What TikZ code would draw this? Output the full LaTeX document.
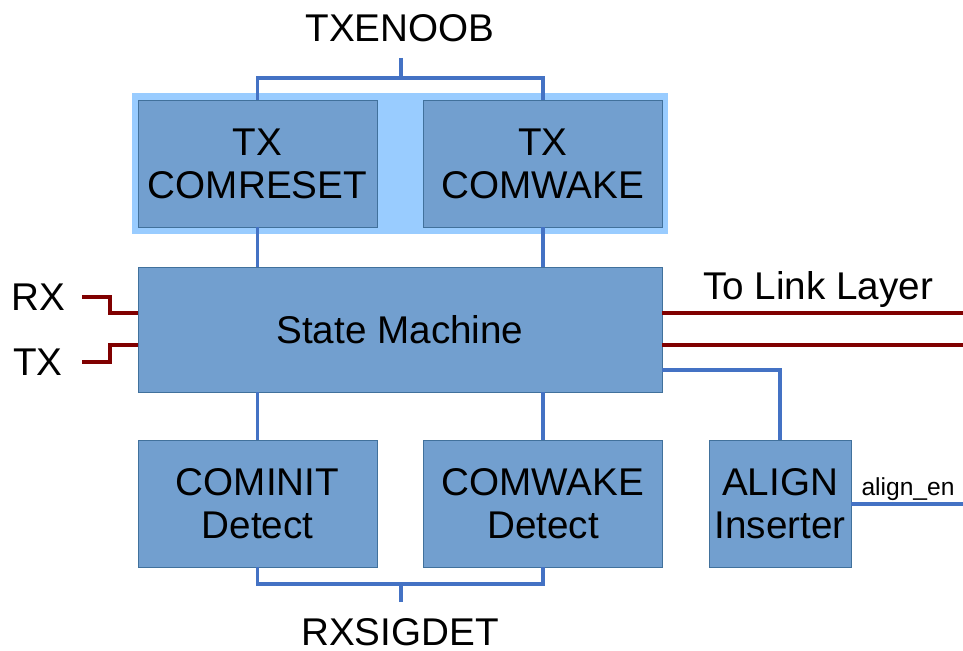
\documentclass[tikz,border=0pt]{standalone}
\usepackage{fontspec}
\setmainfont{Liberation Sans}
\usetikzlibrary{calc}

\definecolor{boxfill}{RGB}{114,159,207}
\definecolor{boxline}{RGB}{65,113,156}
\definecolor{grpfill}{RGB}{153,204,255}
\definecolor{busblue}{RGB}{68,114,196}
\definecolor{sigred}{RGB}{128,0,0}

\tikzset{
    block/.style={draw=boxline,fill=boxfill,align=center,inner sep=0pt,
        minimum width=4.78cm,minimum height=2.54cm,
        font=\fontsize{22}{24.5}\selectfont},
    bus/.style={draw=busblue,line width=2.2pt},
    sig/.style={draw=sigred,line width=2.2pt},
    lbl/.style={font=\fontsize{22}{24.5}\selectfont}
}

\begin{document}
\begin{tikzpicture}[x=0.02cm,y=-0.02cm]
        \useasboundingbox (0,0) rectangle (963,651);

        % transmit group
        \fill[grpfill] (132,93) rectangle (668,234);
        \node[block] (txrst)  at (257.5,163.5) {TX\\COMRESET};
        \node[block] (txwake) at (543,163.5)   {TX\\COMWAKE};

        \node[block,minimum width=10.48cm,minimum height=2.5cm] (fsm) at (400,329.5) {State Machine};

        \node[block] (cominit) at (257.5,503.5) {COMINIT\\Detect};
        \node[block] (comwake) at (543,503.5)   {COMWAKE\\Detect};
        \node[block,minimum width=2.84cm] (align) at (780,503.5) {ALIGN\\Inserter};

        % labels
        \node[lbl] (txenoob) at (400,28)  {TXENOOB};
        \node[lbl] (rxsigdet) at (400,632) {RXSIGDET};
        \node[lbl] (rx) at (38,297) {RX};
        \node[lbl] (tx) at (38,362) {TX};
        \node[lbl] (link) at (818,290) {To Link Layer};
        \node[font=\fontsize{14}{16}\selectfont] (alenlbl) at (908,489) {align\_en};

        \coordinate (txen) at (401,58);
        \coordinate (rxsig) at (401,602);
        \coordinate (rxin) at (82,297);
        \coordinate (txin) at (82,362);
        \coordinate (rxpin) at (138,313);
        \coordinate (txpin) at (138,345);
        \coordinate (link1) at (963,313);
        \coordinate (link2) at (963,345);
        \coordinate (alpin) at (662,370);
        \coordinate (alen) at (963,504);

        % blue connections
        \draw[bus] (txrst.north) -- ++(0,-22) -| (txwake.north);
        \draw[bus] (txen) -- ++(0,20);
        \draw[bus] (txrst.south) -- (txrst.south |- fsm.north);
        \draw[bus] (txwake.south) -- (txwake.south |- fsm.north);
        \draw[bus] (cominit.north |- fsm.south) -- (cominit.north);
        \draw[bus] (comwake.north |- fsm.south) -- (comwake.north);
        \draw[bus] (cominit.south) -- ++(0,17) -| (comwake.south);
        \draw[bus] (rxsig) -- ++(0,-18);
        \draw[bus] (alpin) -| (align.north);
        \draw[bus] (align.east |- alen) -- (alen);

        % red signals
        \draw[sig] (rxin) -- ++(28,0) |- (rxpin);
        \draw[sig] (txin) -- ++(28,0) |- (txpin);
        \draw[sig] (link1 -| fsm.east) -- (link1);
        \draw[sig] (link2 -| fsm.east) -- (link2);
    \end{tikzpicture}
\end{document}
